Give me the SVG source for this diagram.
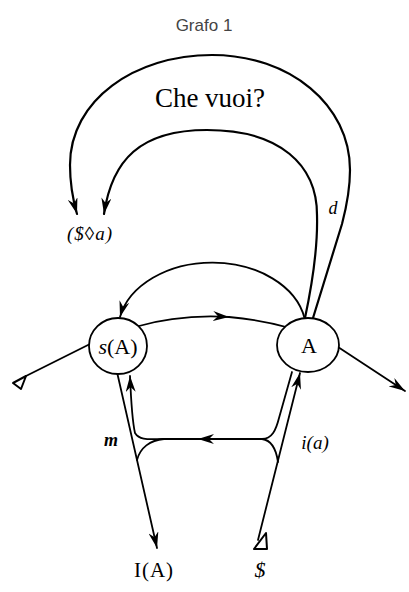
<svg xmlns="http://www.w3.org/2000/svg" width="409" height="592" viewBox="0 0 409 592">
<style>
.ln{fill:none;stroke:#000;stroke-width:1.8;stroke-linecap:round;stroke-linejoin:round}
.arc{stroke-width:2.2}
.nd{fill:#fff;stroke:#000;stroke-width:1.8}
.tri{fill:#fff;stroke:#000;stroke-width:2;stroke-linejoin:round}
.t{font-family:"Liberation Serif","Times New Roman",serif;fill:#000}
.it{font-style:italic}
.title{font-family:"Liberation Sans",Arial,sans-serif;font-size:17px;fill:#444}
</style>
<defs>
<marker id="ah" viewBox="0 0 16 10" refX="16" refY="5" markerWidth="16" markerHeight="10" markerUnits="userSpaceOnUse" orient="auto">
<path d="M0,0 L16,5 L0,10 L5,5 Z" fill="#000"/>
</marker>
</defs>
<text class="title" x="204" y="31" text-anchor="middle">Grafo 1</text>
<g id="connectors">
<path class="ln arc" d="M313,318 L342,224 C347,205 350,190 350,170 C350,105 290,55 212,55 C135,55 70,100 70,165 C70,185 73,200 77,214" marker-end="url(#ah)"/>
<path class="ln arc" d="M305,318 C312,285 318,250 317,215 C317,165 280,130 207,130 C140,130 112,160 104,214" marker-end="url(#ah)"/>
<path class="ln" d="M304.5,318 A94,68 0 0 0 120,317" marker-end="url(#ah)"/>
<path class="ln" d="M135,327 Q180,314 229,317" marker-end="url(#ah)"/>
<path class="ln" d="M229,317 Q262,320 290,328"/>
<path class="ln" d="M92,343 L26,376"/>
<polygon class="tri" points="13,383 26,376 21,389"/>
<path class="ln" d="M338,347 L405,391" marker-end="url(#ah)"/>
<path class="ln" d="M117,372 L157,548" marker-end="url(#ah)"/>
<path class="ln" d="M164,439 C150,439 140,441 135,433 C132,420 131,400 130,376" marker-end="url(#ah)"/>
<path class="ln" d="M164,439 C150,440 140,448 137,460"/>
<path class="ln" d="M262,439 L198,439" marker-end="url(#ah)"/>
<path class="ln" d="M198,439 L164,439"/>
<path class="ln" d="M262,439 C272,439 276,430 279,418 L292,372"/>
<path class="ln" d="M262,439 C270,440 276,448 278,462"/>
<path class="ln" d="M258,540 L300,373" marker-end="url(#ah)"/>
<polygon class="tri" points="254,549 267,549 266,533"/>
</g>
<g id="node-sA">
<ellipse class="nd" cx="118" cy="346" rx="29" ry="28"/>
<text class="t" x="118" y="354" font-size="22" text-anchor="middle"><tspan class="it">s</tspan>(A)</text>
</g>
<g id="node-A">
<ellipse class="nd" cx="308" cy="345" rx="31" ry="27"/>
<text class="t" x="309" y="353" font-size="22" text-anchor="middle">A</text>
</g>
<g id="label-chevuoi"><text class="t" x="210" y="107" font-size="27" text-anchor="middle">Che vuoi?</text></g>
<g id="label-fantasy"><text class="t it" x="90" y="240" font-size="19" text-anchor="middle" letter-spacing="1">($◊a)</text></g>
<g id="label-d"><text class="t it" x="333" y="214" font-size="18" text-anchor="middle">d</text></g>
<g id="label-m"><text class="t it" x="111" y="446" font-size="18" text-anchor="middle" font-weight="bold">m</text></g>
<g id="label-ia"><text class="t it" x="315" y="449" font-size="19" text-anchor="middle">i(a)</text></g>
<g id="label-IA"><text class="t" x="154" y="577" font-size="21" text-anchor="middle" letter-spacing="1">I(A)</text></g>
<g id="label-S"><text class="t it" x="260" y="577" font-size="22" text-anchor="middle">$</text></g>
</svg>
